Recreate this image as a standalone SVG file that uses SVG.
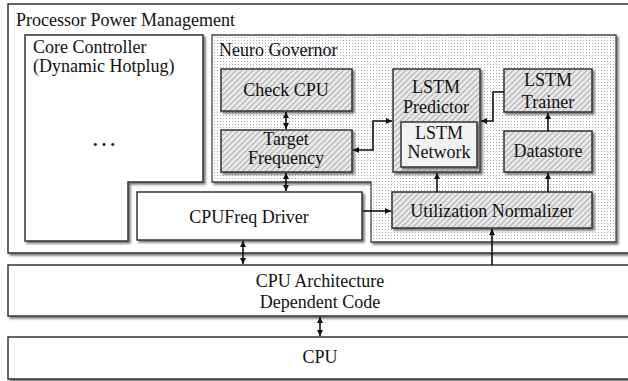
<svg xmlns="http://www.w3.org/2000/svg" width="628" height="381" viewBox="0 0 628 381">
  <defs>
    <filter id="shadow" x="-5%" y="-5%" width="115%" height="120%">
      <feDropShadow dx="2" dy="2" stdDeviation="0.8" flood-color="#6a6a6a" flood-opacity="0.9"/>
    </filter>
    <pattern id="dots" width="3" height="3" patternUnits="userSpaceOnUse">
      <rect width="3" height="3" fill="#ffffff"/>
      <rect x="1" y="1" width="1" height="1" fill="#a8a8a8"/>
    </pattern>
    <pattern id="hatch" width="4" height="4" patternUnits="userSpaceOnUse" patternTransform="rotate(45)">
      <rect width="4" height="4" fill="#ececec"/>
      <rect width="1.3" height="4" fill="#b4b4b4"/>
    </pattern>
    <marker id="arr" viewBox="0 0 6 6" refX="6" refY="3" markerWidth="6" markerHeight="6" markerUnits="userSpaceOnUse" orient="auto-start-reverse">
      <path d="M0,0 L6,3 L0,6 Z" fill="#111"/>
    </marker>
    <style>
      .plain { fill: #ffffff; stroke: #333; stroke-width: 1.5; filter: url(#shadow); }
      .gov { fill: url(#dots); stroke: #444; stroke-width: 1.3; filter: url(#shadow); }
      .hat { fill: url(#hatch); stroke: #333; stroke-width: 1.5; filter: url(#shadow); }
      .net { fill: #f2f2f2; stroke: #333; stroke-width: 1.5; filter: url(#shadow); }
      text { font-family: "Liberation Serif", "Times New Roman", serif; font-size: 18px; fill: #111; }
      .lbl { text-anchor: middle; }
      .one { marker-end: url(#arr); }
      .two { marker-start: url(#arr); marker-end: url(#arr); }
      #connectors path { fill: none; stroke: #111; stroke-width: 1.6; }
    </style>
  </defs>

  <rect width="628" height="381" fill="#ffffff"/>

  <g id="power-management">
    <rect class="plain" x="8" y="4" width="640" height="249"/>
    <text x="16" y="26">Processor Power Management</text>
  </g>

  <g id="core-controller">
    <path class="plain" d="M25,35 H203 V182 H128 V241 H25 Z"/>
    <text x="33" y="53">Core Controller</text>
    <text x="33" y="72">(Dynamic Hotplug)</text>
    <text class="lbl" x="104" y="146" style="font-size:26px">…</text>
  </g>

  <g id="neuro-governor">
    <path class="gov" d="M212,35 H616 V242 H371 V182 H212 Z"/>
    <text x="219" y="56">Neuro Governor</text>
  </g>

  <g id="check-cpu">
    <rect class="hat" x="221" y="69" width="131" height="42"/>
    <text class="lbl" x="286" y="96">Check CPU</text>
  </g>

  <g id="target-frequency">
    <rect class="hat" x="221" y="130" width="131" height="42"/>
    <text class="lbl" x="286" y="145">Target</text>
    <text class="lbl" x="286" y="164">Frequency</text>
  </g>

  <g id="lstm-predictor">
    <rect class="hat" x="393" y="69" width="87" height="103"/>
    <text class="lbl" x="436" y="93">LSTM</text>
    <text class="lbl" x="436" y="113">Predictor</text>
  </g>

  <g id="lstm-network">
    <rect class="net" x="401" y="122" width="76" height="45"/>
    <text class="lbl" x="439" y="139">LSTM</text>
    <text class="lbl" x="439" y="158">Network</text>
  </g>

  <g id="lstm-trainer">
    <rect class="hat" x="504" y="69" width="88" height="43"/>
    <text class="lbl" x="548" y="86">LSTM</text>
    <text class="lbl" x="548" y="108">Trainer</text>
  </g>

  <g id="datastore">
    <rect class="hat" x="504" y="131" width="88" height="41"/>
    <text class="lbl" x="548" y="157">Datastore</text>
  </g>

  <g id="cpufreq-driver">
    <rect class="plain" x="137" y="192" width="225" height="48"/>
    <text class="lbl" x="249" y="223">CPUFreq Driver</text>
  </g>

  <g id="utilization-normalizer">
    <rect class="hat" x="392" y="192" width="200" height="36"/>
    <text class="lbl" x="492" y="217">Utilization Normalizer</text>
  </g>

  <g id="cpu-architecture">
    <rect class="plain" x="8" y="265" width="640" height="51"/>
    <text class="lbl" x="320" y="287">CPU Architecture</text>
    <text class="lbl" x="320" y="308">Dependent Code</text>
  </g>

  <g id="cpu">
    <rect class="plain" x="8" y="337" width="640" height="42"/>
    <text class="lbl" x="320" y="363">CPU</text>
  </g>

  <g id="connectors">
    <path class="two" d="M286,112 V129"/>
    <path class="two" d="M286,173 V191"/>
    <path class="two" d="M353,150 H373 V121 H392"/>
    <path class="one" d="M504,92 H493 V121 H481"/>
    <path class="one" d="M548,131 V113"/>
    <path class="one" d="M548,192 V173"/>
    <path class="one" d="M437,192 V173"/>
    <path class="one" d="M363,211 H391"/>
    <path class="two" d="M243,241 V264"/>
    <path class="one" d="M492,265 V229"/>
    <path class="two" d="M320,317 V336"/>
  </g>
</svg>
